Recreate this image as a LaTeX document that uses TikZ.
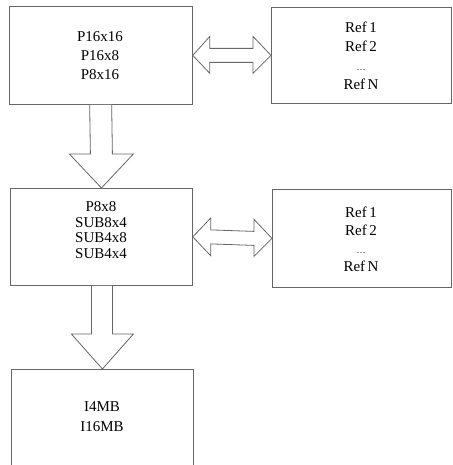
\documentclass[tikz,border=0pt]{standalone}
\usepackage{fontspec}
\setmainfont{Liberation Serif}
\usetikzlibrary{calc}
\definecolor{linec}{gray}{0.4}
\tikzset{
  box/.style={draw=linec, line width=0.8pt, rectangle, inner sep=0pt, anchor=north west},
  lbl/.style={align=center, inner sep=0pt, font=\fontsize{15}{19}\selectfont},
  fatarrow/.style={draw=linec, line width=0.8pt, fill=white, line join=miter}
}
\begin{document}
\begin{tikzpicture}[x=1pt, y=-1pt]
\useasboundingbox (0,0) rectangle (452,465);
\clip (0,0) rectangle (452,465);
% boxes
\node[box, minimum width=183.5pt, minimum height=98pt] (b1) at (8.5,6) {};
\node[box, minimum width=180pt, minimum height=96pt] (r1) at (271,7) {};
\node[box, minimum width=182pt, minimum height=97pt] (b2) at (10,188) {};
\node[box, minimum width=179pt, minimum height=98pt] (r2) at (272,189) {};
\node[box, minimum width=182pt, minimum height=110pt] (b3) at (11,369) {};
% texts
\node[lbl] (t1) at (100,55.5) {P16x16\\P16x8\\P8x16};
\node[lbl] (tr1) at (361,56) {Ref\,1\\Ref\,2\\{\small\dots}\\Ref\,N};
\node[lbl, font=\fontsize{15}{15.5}\selectfont] (t2) at (101,230) {P8x8\\SUB8x4\\SUB4x8\\SUB4x4};
\node[lbl, font=\fontsize{15}{18}\selectfont] (tr2) at (361,239.5) {Ref\,1\\Ref\,2\\{\small\dots}\\Ref\,N};
\node[lbl, font=\fontsize{15}{20}\selectfont] (t3) at (102,417) {I4MB\\I16MB};
% horizontal double arrows
\draw[fatarrow] (b1.east) -- ($(b1.east)+(17,-19)$) -- ($(b1.east)+(17,-7)$)
  -- ($(r1.west)+(-18,-7)$) -- ($(r1.west)+(-18,-19)$) -- (r1.west)
  -- ($(r1.west)+(-18,18)$) -- ($(r1.west)+(-18,7)$)
  -- ($(b1.east)+(17,7)$) -- ($(b1.east)+(17,18)$) -- cycle;
\draw[fatarrow] (b2.east) -- ($(b2.east)+(18,-19)$) -- ($(b2.east)+(18,-7)$)
  -- ($(r2.west)+(-18,-7)$) -- ($(r2.west)+(-18,-19)$) -- (r2.west)
  -- ($(r2.west)+(-18,18)$) -- ($(r2.west)+(-18,7)$)
  -- ($(b2.east)+(18,7)$) -- ($(b2.east)+(18,19)$) -- cycle;
% vertical arrows
\draw[fatarrow] ($(b1.south)+(-11,0)$) -- ($(b2.north)+(-11,-34)$) -- ($(b2.north)+(-32,-34)$)
  -- (b2.north) -- ($(b2.north)+(32,-34)$) -- ($(b2.north)+(11,-34)$) -- ($(b1.south)+(11,0)$);
\draw[fatarrow] ($(b2.south)+(-10,0)$) -- ($(b3.north)+(-11,-35)$) -- ($(b3.north)+(-31,-35)$)
  -- (b3.north) -- ($(b3.north)+(31,-35)$) -- ($(b3.north)+(10,-35)$) -- ($(b2.south)+(11,0)$);
\end{tikzpicture}
\end{document}
